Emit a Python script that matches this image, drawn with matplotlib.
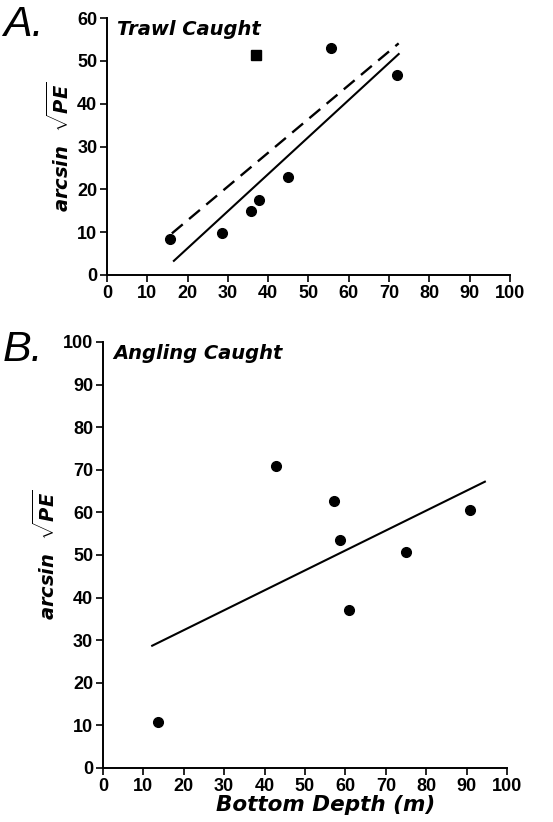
import matplotlib.pyplot as plt

plt.rcParams['font.family'] = ['Liberation Sans', 'DejaVu Sans']
plt.rcParams['mathtext.fontset'] = 'custom'
plt.rcParams['mathtext.it'] = 'DejaVu Sans:bold:italic'
plt.rcParams['mathtext.rm'] = 'DejaVu Sans:bold'

# Panel A: trawl caught
trawl_depth = [15.6, 28.6, 35.8, 37.7, 45.0, 55.7, 72.0]
trawl_pe = [8.3, 9.8, 15.0, 17.6, 22.9, 52.9, 46.7]
trawl_outlier_depth = [37.1]
trawl_outlier_pe = [51.3]
trawl_fit_x = [16.6, 72.4]
trawl_fit_y = [3.3, 51.6]
trawl_fit2_x = [16.1, 72.4]
trawl_fit2_y = [9.7, 54.1]

# Panel B: angling caught
angl_depth = [13.6, 42.9, 57.1, 58.7, 60.9, 75.0, 90.9]
angl_pe = [10.8, 70.9, 62.7, 53.4, 37.1, 50.6, 60.6]
angl_fit_x = [12.2, 94.5]
angl_fit_y = [28.7, 67.2]

xticks = list(range(0, 101, 10))

fig = plt.figure(figsize=(5.53, 8.22), dpi=100)
ax1 = fig.add_axes([0.1935, 0.6655, 0.7285, 0.3125])
ax2 = fig.add_axes([0.186, 0.0657, 0.731, 0.5183])

ylabel = r'arcsin  $\sqrt{PE}$'
bold_it = dict(family='DejaVu Sans', fontweight='bold', style='italic')

for ax in (ax1, ax2):
    ax.spines['top'].set_visible(False)
    ax.spines['right'].set_visible(False)
    ax.spines['left'].set_linewidth(1.4)
    ax.spines['bottom'].set_linewidth(1.4)
    ax.tick_params(direction='out', length=5, width=1.2, labelsize=13, pad=2)
    ax.set_xlim(0, 100)
    ax.set_xticks(xticks)
    for t in ax.get_xticklabels() + ax.get_yticklabels():
        t.set_fontweight('bold')
    ax.set_ylabel(ylabel, fontsize=14, labelpad=3, **bold_it)

# Panel A
ax1.plot(trawl_depth, trawl_pe, 'o', color='black', markersize=7)
ax1.plot(trawl_outlier_depth, trawl_outlier_pe, 's', color='black', markersize=7)
ax1.plot(trawl_fit_x, trawl_fit_y, '-', color='black', linewidth=1.5)
ax1.plot(trawl_fit2_x, trawl_fit2_y, '--', color='black', linewidth=1.7, dashes=(6, 3.5))
ax1.set_ylim(0, 60)
ax1.set_yticks(range(0, 61, 10))
ax1.text(0.025, 0.955, 'Trawl Caught', transform=ax1.transAxes, fontsize=14,
         va='center', ha='left', **bold_it)
fig.text(0.005, 0.97, 'A.', fontsize=31, style='italic', va='center', ha='left')

# Panel B
ax2.plot(angl_depth, angl_pe, 'o', color='black', markersize=7)
ax2.plot(angl_fit_x, angl_fit_y, '-', color='black', linewidth=1.5)
ax2.set_ylim(0, 100)
ax2.set_yticks(range(0, 101, 10))
ax2.text(0.025, 0.972, 'Angling Caught', transform=ax2.transAxes, fontsize=14,
         va='center', ha='left', **bold_it)
ax2.set_xlabel('Bottom Depth (m)', fontsize=15.5, **bold_it)
ax2.xaxis.set_label_coords(0.55, -0.063)
fig.text(0.005, 0.574, 'B.', fontsize=31, style='italic', va='center', ha='left')

fig.savefig('out.png', dpi=100)
